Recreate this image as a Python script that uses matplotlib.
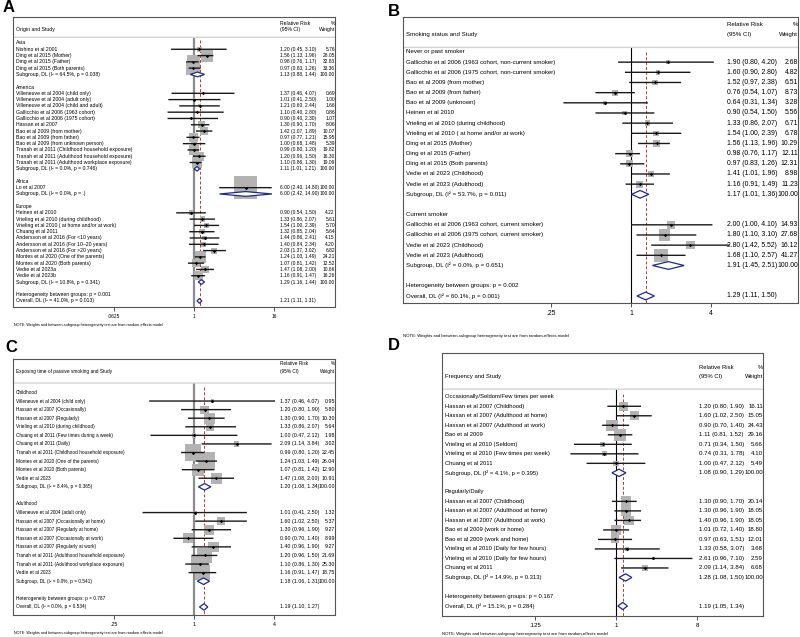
import numpy as np
import matplotlib
matplotlib.use("Agg")
import matplotlib.pyplot as plt
from matplotlib.patches import Polygon
import matplotlib.transforms as mtransforms

plt.rcParams["font.family"] = ["Liberation Sans", "DejaVu Sans"]

NOTE = "NOTE: Weights and between-subgroup heterogeneity test are from random-effects model"

# ---- Panel A: origin ----
A_title = "Origin and Study"
A_kind = ["h", "s", "s", "s", "s", "g", "b",
          "h"] + ["s"] * 12 + ["g", "b",
          "h", "s", "g", "b",
          "h"] + ["s"] * 11 + ["g", "b", "t", "o"]
A_label = ["Asia", "Nishino et al 2001", "Ding et al 2015 (Mother)", "Ding et al 2015 (Father)",
           "Ding et al 2015 (Both parents)", "Subgroup, DL (I² = 64.5%, p = 0.038)", "",
           "America", "Villeneuve et al 2004 (child only)", "Villeneuve et al 2004 (adult only)",
           "Villeneuve et al 2004 (child and adult)", "Gallicchio et al 2006 (1963 cohort)",
           "Gallicchio et al 2006 (1975 cohort)", "Hassan et al 2007", "Bao et al 2009 (from mother)",
           "Bao et al 2009 (from father)", "Bao et al 2009 (from unknown person)",
           "Tranah et al 2011 (Childhood household exposure)",
           "Tranah et al 2011 (Adulthood household exposure)",
           "Tranah et al 2011 (Adulthood workplace exposure)",
           "Subgroup, DL (I² = 0.0%, p = 0.746)", "",
           "Africa", "Lo et al 2007", "Subgroup, DL (I² = 0.0%, p = .)", "",
           "Europe", "Heinen et al 2010", "Vrieling et al 2010 (during childhood)",
           "Vrieling et al 2010 ( at home and/or at work)", "Chuang et al 2011",
           "Andersson et al 2016 (For <10 years)", "Andersson et al 2016 (For 10–20 years)",
           "Andersson et al 2016 (For >20 years)", "Montes et al 2020 (One of the parents)",
           "Montes et al 2020 (Both parents)", "Vedie et al 2023a", "Vedie et al 2023b",
           "Subgroup, DL (I² = 10.8%, p = 0.341)", "",
           "Heterogeneity between groups: p = 0.001", "Overall, DL (I² = 41.0%, p = 0.013)"]
A_rr = [None, 1.20, 1.56, 0.98, 0.97, 1.13, None,
        None, 1.37, 1.01, 1.21, 1.10, 0.90, 1.30, 1.42, 0.97, 1.00, 0.99, 1.20, 1.10, 1.11, None,
        None, 6.00, 6.00, None,
        None, 0.90, 1.33, 1.54, 1.32, 1.44, 1.40, 2.03, 1.24, 1.07, 1.47, 1.16, 1.29, None,
        None, 1.21]
A_lo = [None, 0.45, 1.13, 0.76, 0.83, 0.88, None,
        None, 0.46, 0.41, 0.60, 0.40, 0.40, 0.90, 1.07, 0.77, 0.68, 0.80, 0.96, 0.86, 1.01, None,
        None, 2.40, 2.42, None,
        None, 0.54, 0.86, 1.00, 0.85, 0.86, 0.84, 1.37, 1.03, 0.81, 1.08, 0.91, 1.16, None,
        None, 1.11]
A_hi = [None, 3.10, 1.96, 1.17, 1.26, 1.44, None,
        None, 4.07, 2.50, 2.44, 2.80, 2.30, 1.70, 1.89, 1.21, 1.48, 1.20, 1.50, 1.30, 1.21, None,
        None, 14.80, 14.90, None,
        None, 1.50, 2.07, 2.39, 2.04, 2.41, 2.34, 3.02, 1.49, 1.42, 2.00, 1.47, 1.44, None,
        None, 1.31]
A_wt = [None, 5.76, 28.05, 32.83, 33.36, 100.00, None,
        None, 0.69, 1.00, 1.66, 0.86, 1.07, 8.06, 10.07, 15.95, 5.39, 19.82, 16.30, 19.09, 100.00, None,
        None, 100.00, 100.00, None,
        None, 4.22, 5.61, 5.70, 5.64, 4.15, 4.20, 6.82, 24.21, 12.52, 10.66, 16.26, 100.00, None,
        None, None]
A_ticks = [0.0625, 1, 16]
A_ticklabels = [".0625", "1", "16"]

# ---- Panel B: smoking status ----
B_title = "Smoking status and Study"
B_kind = ["h"] + ["s"] * 13 + ["g", "b", "h"] + ["s"] * 4 + ["g", "b", "t", "o"]
B_label = ["Never or past smoker",
           "Gallicchio et al 2006 (1963 cohort, non-current smoker)",
           "Gallicchio et al 2006 (1975 cohort, non-current smoker)",
           "Bao et al 2009 (from mother)", "Bao et al 2009 (from father)",
           "Bao et al 2009 (unknown)", "Heinen et al 2010",
           "Vrieling et al 2010 (during childhood)",
           "Vrieling et al 2010 ( at home and/or at work)",
           "Ding et al 2015 (Mother)", "Ding et al 2015 (Father)",
           "Ding et al 2015 (Both parents)", "Vedie et al 2023 (Childhood)",
           "Vedie et al 2023 (Adulthood)", "Subgroup, DL (I² = 53.7%, p = 0.011)", "",
           "Current smoker", "Gallicchio et al 2006 (1963 cohort, current smoker)",
           "Gallicchio et al 2006 (1975 cohort, current smoker)",
           "Vedie et al 2023 (Childhood)", "Vedie et al 2023 (Adulthood)",
           "Subgroup, DL (I² = 0.0%, p = 0.651)", "",
           "Heterogeneity between groups: p = 0.002", "Overall, DL (I² = 60.1%, p = 0.001)"]
B_rr = [None, 1.90, 1.60, 1.52, 0.76, 0.64, 0.90, 1.33, 1.54, 1.56, 0.98, 0.97, 1.41, 1.16, 1.17,
        None, None, 2.00, 1.80, 2.80, 1.68, 1.91, None, None, 1.29]
B_lo = [None, 0.80, 0.90, 0.97, 0.54, 0.31, 0.54, 0.86, 1.00, 1.13, 0.76, 0.83, 1.01, 0.91, 1.01,
        None, None, 1.00, 1.10, 1.42, 1.10, 1.45, None, None, 1.11]
B_hi = [None, 4.20, 2.80, 2.38, 1.07, 1.34, 1.50, 2.07, 2.39, 1.96, 1.17, 1.26, 1.96, 1.49, 1.36,
        None, None, 4.10, 3.10, 5.52, 2.57, 2.51, None, None, 1.50]
B_wt = [None, 2.68, 4.82, 6.51, 8.73, 3.28, 5.56, 6.71, 6.78, 10.29, 12.11, 12.31, 8.98, 11.23, 100.00,
        None, None, 14.93, 27.68, 16.12, 41.27, 100.00, None, None, None]
B_ticks = [0.25, 1, 4]
B_ticklabels = [".25", "1", "4"]

# ---- Panel C: exposing time ----
C_title = "Exposing time of passive smoking and Study"
C_kind = ["h"] + ["s"] * 10 + ["g", "b", "h"] + ["s"] * 8 + ["g", "b", "t", "o"]
C_label = ["Childhood", "Villeneuve et al 2004 (child only)", "Hassan et al 2007 (Occasionally)",
           "Hassan et al 2007 (Regularly)", "Vrieling et al 2010 (during childhood)",
           "Chuang et al 2011 (Few times during a week)", "Chuang et al 2011 (Daily)",
           "Tranah et al 2011 (Childhood household exposure)",
           "Montes et al 2020 (One of the parents)", "Montes et al 2020 (Both parents)",
           "Vedie et al 2023", "Subgroup, DL (I² = 8.4%, p = 0.365)", "",
           "Adulthood", "Villeneuve et al 2004 (adult only)",
           "Hassan et al 2007 (Occasionally at home)", "Hassan et al 2007 (Regularly at home)",
           "Hassan et al 2007 (Occasionally at work)", "Hassan et al 2007 (Regularly at work)",
           "Tranah et al 2011 (Adulthood household exposure)",
           "Tranah et al 2011 (Adulthood workplace exposure)", "Vedie et al 2023",
           "Subgroup, DL (I² = 0.0%, p = 0.541)", "",
           "Heterogeneity between groups: p = 0.787", "Overall, DL (I² = 0.0%, p = 0.534)"]
C_rr = [None, 1.37, 1.20, 1.30, 1.33, 1.00, 2.09, 0.99, 1.24, 1.07, 1.47, 1.20, None,
        None, 1.01, 1.60, 1.30, 0.90, 1.40, 1.20, 1.10, 1.16, 1.18, None, None, 1.19]
C_lo = [None, 0.46, 0.80, 0.90, 0.86, 0.47, 1.14, 0.80, 1.03, 0.81, 1.08, 1.08, None,
        None, 0.41, 1.02, 0.96, 0.70, 0.96, 0.96, 0.86, 0.91, 1.06, None, None, 1.10]
C_hi = [None, 4.07, 1.90, 1.70, 2.07, 2.12, 3.84, 1.20, 1.49, 1.42, 2.00, 1.34, None,
        None, 2.50, 2.50, 1.90, 1.40, 1.90, 1.50, 1.30, 1.47, 1.31, None, None, 1.27]
C_wt = [None, 0.95, 5.80, 10.30, 5.64, 1.98, 3.02, 22.45, 26.04, 12.90, 10.91, 100.00, None,
        None, 1.32, 5.37, 9.27, 8.99, 9.27, 21.69, 25.30, 18.75, 100.00, None, None, None]
C_ticks = [0.25, 1, 4]
C_ticklabels = [".25", "1", "4"]

# ---- Panel D: frequency ----
D_title = "Frequency and Study"
D_kind = ["h"] + ["s"] * 7 + ["g", "b", "h"] + ["s"] * 8 + ["g", "b", "t", "o"]
D_label = ["Occasionally/Seldom/Few times per week", "Hassan et al 2007 (Childhood)",
           "Hassan et al 2007 (Adulthood at home)", "Hassan et al 2007 (Adulthood at work)",
           "Bao et al 2009", "Vrieling et al 2010 (Seldom)",
           "Vrieling et al 2010 (Few times per week)", "Chuang et al 2011",
           "Subgroup, DL (I² = 4.1%, p = 0.395)", "",
           "Regularly/Daily", "Hassan et al 2007 (Childhood)",
           "Hassan et al 2007 (Adulthood at home)", "Hassan et al 2007 (Adulthood at work)",
           "Bao et al 2009 (work or home)", "Bao et al 2009 (work and home)",
           "Vrieling et al 2010 (Daily for few hours)", "Vrieling et al 2010 (Daily for few hours)",
           "Chuang et al 2011", "Subgroup, DL (I² = 14.9%, p = 0.313)", "",
           "Heterogeneity between groups: p = 0.167", "Overall, DL (I² = 15.1%, p = 0.284)"]
D_rr = [None, 1.20, 1.60, 0.90, 1.11, 0.71, 0.74, 1.00, 1.08, None,
        None, 1.30, 1.30, 1.40, 1.01, 0.97, 1.33, 2.61, 2.09, 1.28, None, None, 1.19]
D_lo = [None, 0.80, 1.02, 0.70, 0.81, 0.34, 0.31, 0.47, 0.90, None,
        None, 0.90, 0.96, 0.96, 0.72, 0.63, 0.58, 0.96, 1.14, 1.08, None, None, 1.05]
D_hi = [None, 1.90, 2.50, 1.40, 1.52, 1.50, 1.78, 2.12, 1.29, None,
        None, 1.70, 1.90, 1.90, 1.40, 1.51, 3.07, 7.10, 3.84, 1.50, None, None, 1.34]
D_wt = [None, 16.11, 15.05, 24.43, 29.16, 5.66, 4.10, 5.49, 100.00, None,
        None, 20.14, 18.05, 18.05, 18.80, 12.01, 3.68, 2.59, 6.68, 100.00, None, None, None]
D_ticks = [0.125, 1, 8]
D_ticklabels = [".125", "1", "8"]


def forest(ax, title, kind, label, rr, lo, hi, wt, ticks, ticklabels,
           xlim, ylim, fs, nfs, box_k, null_color, null_lw, sep_row, ci_x=0.83):
    n = len(kind)
    ax.set_xscale("log", base=2)
    ax.set_xlim(2 ** xlim[0], 2 ** xlim[1])
    ax.set_ylim(ylim[1], ylim[0])
    trans = mtransforms.blended_transform_factory(ax.transAxes, ax.transData)

    # header
    ax.text(0.008, sep_row - 1.3, title, transform=trans, fontsize=fs, va="center")
    ax.text(ci_x, sep_row - 2.25, "Relative Risk", transform=trans, fontsize=fs, va="center")
    ax.text(ci_x, sep_row - 1.3, "(95% CI)", transform=trans, fontsize=fs, va="center")
    ax.text(1.0, sep_row - 2.25, "%", transform=trans, fontsize=fs, va="center", ha="right")
    ax.text(1.0, sep_row - 1.3, "Weight", transform=trans, fontsize=fs, va="center", ha="right")
    ax.axhline(sep_row, color="#d4d4d4", lw=1.0, snap=False)

    # null line and overall line
    ax.vlines(1, sep_row, ylim[1], color=null_color, lw=null_lw, zorder=1)
    overall = rr[kind.index("o")]
    ax.vlines(overall, sep_row + 0.5, ylim[1], color="#c0392b", lw=0.7,
              linestyles=(0, (3, 2)), zorder=2)

    study = [i for i in range(n) if kind[i] == "s"]
    s_rr = [rr[i] for i in study]
    side = box_k * np.sqrt([wt[i] for i in study]) * 0.72
    ax.scatter(s_rr, study, marker="s", s=side ** 2, color="#b3b3b3",
               linewidths=0, zorder=3)
    for i in study:
        ax.plot([lo[i], hi[i]], [i, i], color="#1a1a1a", lw=1.0, snap=False,
                solid_capstyle="butt", zorder=4)
    ax.scatter(s_rr, study, marker="D", s=3, color="black", linewidths=0, zorder=5)

    for i in range(n):
        k = kind[i]
        ax.text(0.008, i, label[i], transform=trans, fontsize=fs, va="center")
        if k in ("s", "g", "o"):
            txt = f"{rr[i]:.2f} ({lo[i]:.2f}, {hi[i]:.2f})"
            ax.text(ci_x, i, txt, transform=trans, fontsize=nfs, va="center")
            if wt[i] is not None:
                ax.text(1.0, i, f"{wt[i]:.2f}", transform=trans, fontsize=nfs,
                        va="center", ha="right")
        if k in ("g", "o"):
            dh = 0.38
            pts = [(lo[i], i), (rr[i], i - dh), (hi[i], i), (rr[i], i + dh)]
            ax.add_patch(Polygon(pts, closed=True, facecolor="white",
                                 edgecolor="#1f2a8a", lw=0.9, zorder=6))

    ax.set_yticks([])
    ax.set_xticks(ticks)
    ax.set_xticklabels(ticklabels)
    ax.xaxis.set_minor_locator(matplotlib.ticker.NullLocator())
    ax.tick_params(axis="x", length=3, width=0.6, labelsize=nfs, pad=2, color="#333333")
    for sp in ax.spines.values():
        sp.set_color("#555555")
        sp.set_linewidth(0.8)


fig = plt.figure(figsize=(8, 6.37), dpi=100)
W, H = 800, 637


def add_ax(x0, y0, x1, y1):
    return fig.add_axes([x0 / W, 1 - y1 / H, (x1 - x0) / W, (y1 - y0) / H])


axA = add_ax(13, 17, 335, 307)
forest(axA, A_title, A_kind, A_label, A_rr, A_lo, A_hi, A_wt, A_ticks, A_ticklabels,
       xlim=(-9.05, 7.05), ylim=(-4.13, 41.97), fs=3.7, nfs=3.55, box_k=2.3,
       null_color="#8c8c8c", null_lw=1.6, sep_row=-0.9)

axB = add_ax(403, 17, 798, 303)
forest(axB, B_title, B_kind, B_label, B_rr, B_lo, B_hi, B_wt, B_ticks, B_ticklabels,
       xlim=(-5.7, 4.175), ylim=(-3.44, 24.69), fs=4.45, nfs=4.95, box_k=2.1,
       null_color="black", null_lw=0.8, sep_row=-0.45, ci_x=0.82)

axC = add_ax(13, 359, 335, 615)
forest(axC, C_title, C_kind, C_label, C_rr, C_lo, C_hi, C_wt, C_ticks, C_ticklabels,
       xlim=(-4.525, 3.525), ylim=(-3.9, 25.94), fs=3.4, nfs=3.75, box_k=3.4,
       null_color="#8c8c8c", null_lw=1.6, sep_row=-1.1)

axD = add_ax(442, 353, 763, 616)
forest(axD, D_title, D_kind, D_label, D_rr, D_lo, D_hi, D_wt, D_ticks, D_ticklabels,
       xlim=(-6.44, 5.44), ylim=(-4.6, 23.05), fs=4.2, nfs=4.45, box_k=2.3,
       null_color="black", null_lw=0.8, sep_row=-0.8, ci_x=0.80)

# panel letters
for x, y, s in [(3, 8, "A"), (388, 12, "B"), (5, 347, "C"), (388, 345, "D")]:
    fig.text(x / W, 1 - y / H, s, fontsize=12, fontweight="bold", va="center", ha="left")

# notes
for x, y, fs in [(14, 325, 2.7), (403, 336, 3.1), (14, 633, 2.7), (442, 634, 3.1)]:
    fig.text(x / W, 1 - y / H, NOTE, fontsize=fs, va="center", ha="left")

fig.savefig("out.png", dpi=100)
